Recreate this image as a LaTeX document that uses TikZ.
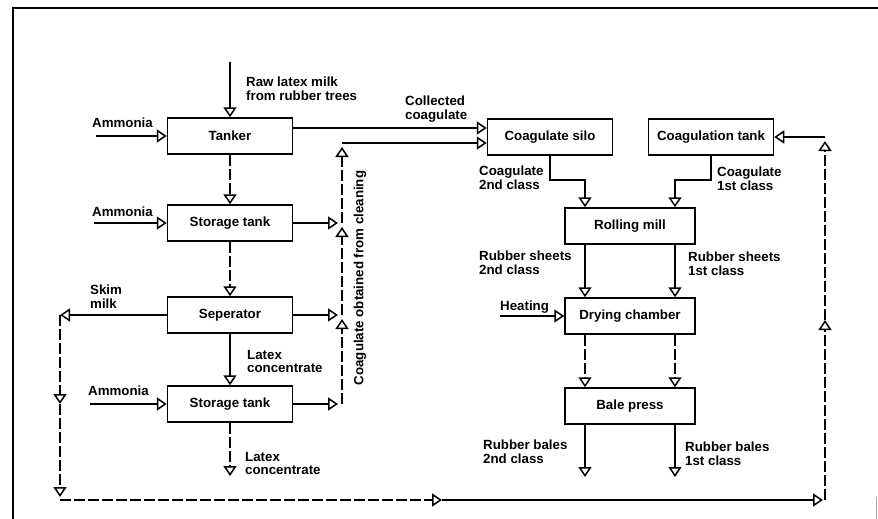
\documentclass[tikz,border=0pt]{standalone}
\usepackage{fontspec}
\setmainfont{Liberation Sans}
\usetikzlibrary{arrows.meta}
\begin{document}
\begin{tikzpicture}[x=1pt,y=-1pt,
  every node/.style={font=\fontsize{13.3}{13.5}\selectfont\bfseries},
  unit/.style={draw, line width=1.5pt, minimum width=125pt, minimum height=36pt, inner sep=0pt},
  wideunit/.style={unit, minimum width=130pt},
  lbl/.style={anchor=north west, align=left, inner sep=0pt},
  flow/.style={line width=1.4pt, -{Triangle[open, fill=white, length=10pt, width=13pt, line width=1.5pt]}},
  broken/.style={dash pattern=on 11pt off 3pt},
  meet/.style={shorten >=4pt},
]
\useasboundingbox (0,0) rectangle (878,519);

% frame
\draw[line width=1.7pt] (13,519) -- (13,8) -- (878,8);
\draw[line width=0.8pt, black!35] (876,497) -- (876,519);

% latex line (left column)
\node[unit] (tanker) at (230,136) {Tanker};
\node[unit] (st1) at (230,223) {Storage tank};
\node[unit] (sep) at (230,315) {Seperator};
\node[unit] (st2) at (230,404) {Storage tank};

% coagulate line (right part)
\node[unit] (silo) at (550,137) {Coagulate silo};
\node[unit] (coag) at (711,137) {Coagulation tank};
\node[wideunit] (rolling) at (630,226) {Rolling mill};
\node[wideunit] (drying) at (630,316) {Drying chamber};
\node[wideunit] (bale) at (630,406) {Bale press};

% inputs and outputs
\coordinate (rawin) at (230,62);
\coordinate (amm1) at (96,136);
\coordinate (amm2) at (94,223);
\coordinate (amm3) at (90,404);
\coordinate (lcout) at (230,476);
\coordinate (heat) at (500,316);
\coordinate (out2) at (585,477);
\coordinate (out1) at (675,477);

\draw[flow] (rawin) -- (tanker.north);
\draw[flow] (amm1) -- (tanker.west);
\draw[flow] (amm2) -- (st1.west);
\draw[flow] (amm3) -- (st2.west);
\draw[flow,broken] (tanker.south) -- (st1.north);
\draw[flow,broken] (st1.south) -- (sep.north);
\draw[flow] (sep.south) -- (st2.north);
\draw[flow,broken] (st2.south) -- (lcout);

% coagulate collected from cleaning
\coordinate (j1) at (342,223);
\coordinate (j2) at (342,315);
\coordinate (j3) at (342,404);
\coordinate (jt) at (342,143);
\draw[flow,meet] (st1.east) -- (j1);
\draw[flow,meet] (sep.east) -- (j2);
\draw[flow,meet] (st2.east) -- (j3);
\draw[flow,broken,meet] (j3) -- (j2);
\draw[flow,broken,meet] (j2) -- (j1);
\draw[flow,broken,meet] (j1) -- (jt);
\draw[flow] (jt) -- (silo.west |- jt);
\draw[flow] ([yshift=8pt]tanker.east) -- ([yshift=8pt]tanker.east -| silo.west);

% processing of the coagulate
\draw[flow] (silo.south) |- (585,180) -- (585,0 |- rolling.north);
\draw[flow] (coag.south) |- (675,180) -- (675,0 |- rolling.north);
\draw[flow] (585,0 |- rolling.south) -- (585,0 |- drying.north);
\draw[flow] (675,0 |- rolling.south) -- (675,0 |- drying.north);
\draw[flow,broken] (585,0 |- drying.south) -- (585,0 |- bale.north);
\draw[flow,broken] (675,0 |- drying.south) -- (675,0 |- bale.north);
\draw[flow] (585,0 |- bale.south) -- (out2);
\draw[flow] (675,0 |- bale.south) -- (out1);
\draw[flow] (heat) -- (drying.west);

% skim milk return loop
\coordinate (sk) at (60,315);
\coordinate (skm) at (60,404);
\coordinate (bl) at (60,500);
\coordinate (bm) at (442,500);
\coordinate (br) at (825,500);
\coordinate (rm) at (825,320);
\coordinate (rt) at (825,137);
\draw[flow] (sep.west) -- (sk);
\draw[flow,broken] (sk) -- (skm);
\draw[flow,broken,shorten >=3pt] (skm) -- (bl);
\draw[flow,broken] (bl) -- (bm);
\draw[flow,shorten >=2pt] (bm) -- (br);
\draw[flow,broken] (br) -- (rm);
\draw[flow,broken,meet] (rm) -- (rt);
\draw[flow] (rt) -- (coag.east);

% labels
\node[lbl] (lraw) at (246,77) {Raw latex milk\\from rubber trees};
\node[lbl] (lcol) at (405,96) {Collected\\coagulate};
\node[lbl] (la1) at (92,118) {Ammonia};
\node[lbl] (la2) at (92,207) {Ammonia};
\node[lbl] (la3) at (88,386) {Ammonia};
\node[lbl] (lskim) at (90,285) {Skim\\milk};
\node[lbl] (llc1) at (247,350) {Latex\\concentrate};
\node[lbl] (llc2) at (245,452) {Latex\\concentrate};
\node[rotate=90, inner sep=0pt] (lclean) at (360,278) {Coagulate obtained from cleaning};
\node[lbl] (lco2) at (479,166) {Coagulate\\2nd class};
\node[lbl] (lco1) at (717,167) {Coagulate\\1st class};
\node[lbl] (lsh2) at (479,251) {Rubber sheets\\2nd class};
\node[lbl] (lsh1) at (688,252) {Rubber sheets\\1st class};
\node[lbl] (lheat) at (500,301) {Heating};
\node[lbl] (lba2) at (483,440) {Rubber bales\\2nd class};
\node[lbl] (lba1) at (685,442) {Rubber bales\\1st class};
\end{tikzpicture}
\end{document}
